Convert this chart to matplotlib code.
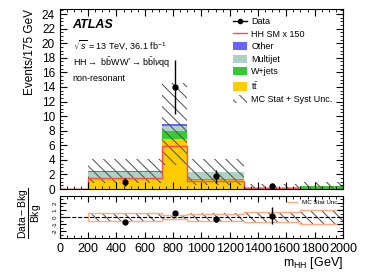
import numpy as np
import matplotlib
matplotlib.use("Agg")
import matplotlib.pyplot as plt
from matplotlib.patches import Patch
from matplotlib.lines import Line2D
from matplotlib.ticker import MultipleLocator

plt.rcParams["font.family"] = ["Liberation Sans", "DejaVu Sans"]
plt.rcParams["mathtext.fontset"] = "custom"
plt.rcParams["mathtext.rm"] = "Liberation Sans"
plt.rcParams["mathtext.it"] = "Liberation Sans:italic"
plt.rcParams["mathtext.bf"] = "Liberation Sans:bold"
plt.rcParams["hatch.linewidth"] = 0.7

# binning in m_HH [GeV]
edges = [200, 725, 900, 1300, 1700, 2000]

# stacked backgrounds (events / 175 GeV)
ttbar = [1.40, 6.80, 1.20, 0.30, 0.05]
wjets = [0.10, 1.10, 0.20, 0.03, 0.30]
multijet = [0.90, 0.80, 0.90, 0.0, 0.0]
other = [0.07, 0.25, 0.07, 0.0, 0.0]
bkg_unc = [1.70, 5.65, 1.75, 0.35, 0.55]

# HH SM signal x 150
hh_edges = [0, 200, 725, 900, 1300, 1700, 2000]
hh_sig = [0.0, 1.50, 5.95, 1.05, 0.10, 0.05]

# data
data_x = [462.5, 812.5, 1100, 1500]
data_y = [1.0, 14.0, 1.75, 0.44]
data_err = [0.58, 3.7, 0.88, 0.44]

# ratio panel
ratio_y = [-0.65, 0.6, -0.3, 0.2]
ratio_err = [0.15, 0.3, 0.35, 1.2]
ratio_stat = [0.55, 0.30, 0.50, 0.70, 1.00]
ratio_tot = [0.60, 0.35, 0.55, 0.75, 1.05]

c_tt = "#ffcc00"
c_w = "#33cc33"
c_mj = "#aed0c6"
c_oth = "#6666ff"
c_hh = "#ff4c4c"
c_hatch = "#4d4d4d"

fig = plt.figure(figsize=(3.74, 2.72), dpi=100)
ax = fig.add_axes([0.160, 0.305, 0.757, 0.662])
axr = fig.add_axes([0.160, 0.125, 0.757, 0.154])

# stack
base = np.zeros(len(ttbar))
for vals, col in [(ttbar, c_tt), (wjets, c_w), (multijet, c_mj), (other, c_oth)]:
    top = base + np.array(vals)
    ax.stairs(top, edges, baseline=base, fill=True, color=col, lw=0)
    base = top
total = base
ax.stairs(total + bkg_unc, edges, baseline=np.clip(total - bkg_unc, 0, None), fill=False,
          color=c_hatch, hatch="\\\\\\", lw=0)
ax.stairs(hh_sig, hh_edges, color=c_hh, lw=1.0, baseline=None)
ax.plot([0, 200], [0, 0], color="#aa5522", lw=1.0)

ax.errorbar(data_x, data_y, yerr=data_err, fmt="o", color="black", ms=3.5, lw=1.0,
            capsize=0)

ax.set_xlim(0, 2000)
ax.set_ylim(0, 24.7)
ax.set_ylabel("Events/175 GeV", fontsize=8.5, loc="top")
ax.yaxis.set_major_locator(MultipleLocator(2))
ax.yaxis.set_minor_locator(MultipleLocator(0.5))
ax.xaxis.set_major_locator(MultipleLocator(200))
ax.xaxis.set_minor_locator(MultipleLocator(50))
ax.tick_params(which="both", direction="in", top=True, right=True, labelsize=8.5)
ax.tick_params(which="major", length=5)
ax.tick_params(which="minor", length=2.5)
ax.tick_params(axis="x", labelbottom=False)

ax.text(0.045, 0.945, "ATLAS", transform=ax.transAxes, fontsize=9, fontweight="bold",
        fontstyle="italic", va="top")
ax.text(0.045, 0.84, r"$\sqrt{s}$ = 13 TeV, 36.1 fb$^{-1}$", transform=ax.transAxes,
        fontsize=6.5, va="top")
ax.text(0.045, 0.745, r"HH$\rightarrow$ b$\bar{\rm b}$WW$^{*}$$\rightarrow$b$\bar{\rm b}$l$\nu$qq",
        transform=ax.transAxes, fontsize=6.5, va="top")
ax.text(0.045, 0.64, "non-resonant", transform=ax.transAxes, fontsize=6.5, va="top")

handles = [
    Line2D([], [], color="black", marker="o", ms=3, lw=1.0),
    Line2D([], [], color=c_hh, lw=1.0),
    Patch(facecolor=c_oth),
    Patch(facecolor=c_mj),
    Patch(facecolor=c_w),
    Patch(facecolor=c_tt),
    Patch(facecolor="none", edgecolor=c_hatch, lw=0, hatch="\\\\\\"),
]
labels = ["Data", "HH SM x 150", "Other", "Multijet", "W+jets", r"t$\bar{\rm t}$",
          "MC Stat + Syst Unc."]
ax.legend(handles, labels, loc="upper left", bbox_to_anchor=(0.6, 0.975), frameon=False,
          fontsize=6.5, handlelength=1.5, handleheight=1.0, labelspacing=0.38,
          borderaxespad=0, handletextpad=0.5)

# ratio panel
axr.stairs(np.array(ratio_tot), edges, baseline=-np.array(ratio_tot), fill=False,
           color=c_hatch, hatch="\\\\\\", lw=0)
axr.stairs(np.array(ratio_stat), edges, baseline=-np.array(ratio_stat), fill=False,
           color="#ffaa80", lw=1.0)
axr.axhline(0, color="black", ls="--", lw=0.8)
axr.errorbar(data_x, ratio_y, yerr=ratio_err, fmt="o", color="black", ms=3.5, lw=1.0,
             capsize=0)
axr.legend([Line2D([], [], color="#ffaa80", lw=1.0)], ["MC Stat Unc."], loc="upper right",
           frameon=False, fontsize=4.5, handlelength=1.6, borderaxespad=0.2)

axr.set_xlim(0, 2000)
axr.set_ylim(-2.95, 2.95)
axr.yaxis.set_minor_locator(MultipleLocator(0.5))
axr.xaxis.set_major_locator(MultipleLocator(200))
axr.xaxis.set_minor_locator(MultipleLocator(50))
axr.set_yticks([-2, -1, 0, 1, 2])
axr.set_yticklabels(["-2", "-1", "0", "1", "2"], rotation=90, va="center")
axr.tick_params(which="both", direction="in", top=True, right=True, labelsize=9)
axr.tick_params(axis="y", labelsize=4.5, pad=1.5)
axr.tick_params(which="major", length=4)
axr.tick_params(which="minor", length=2)
axr.text(-0.105, 0.6, r"$\dfrac{\rm Data-Bkg}{\rm Bkg}$", transform=axr.transAxes,
         rotation=90, ha="center", va="center", fontsize=7.5)
axr.set_xlabel(r"m$_{\rm HH}$ [GeV]", fontsize=9, loc="right", labelpad=0)

fig.savefig("out.png", dpi=100)
